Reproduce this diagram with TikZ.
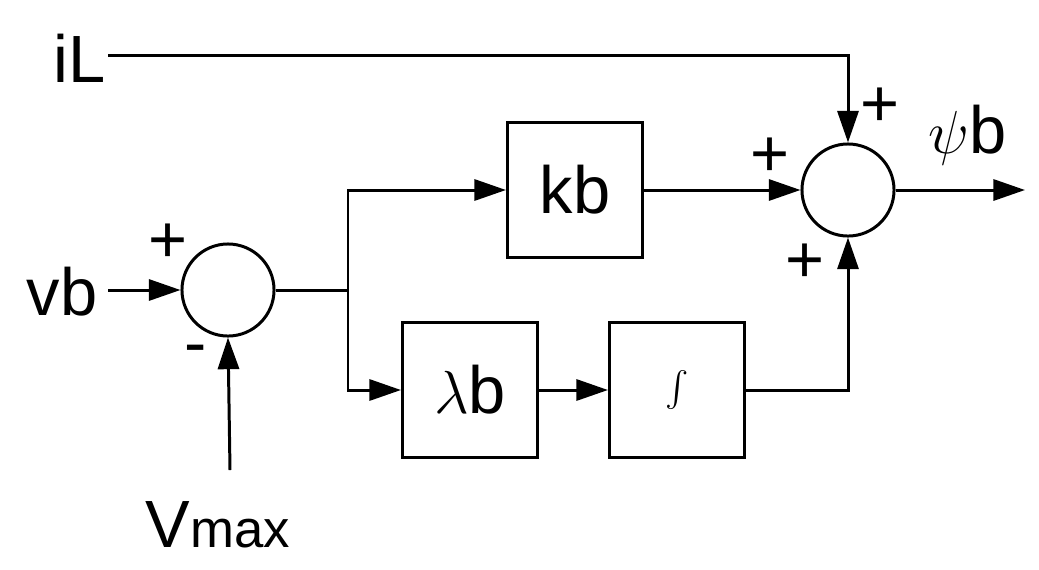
\documentclass[tikz,border=0pt]{standalone}
\usepackage{fontspec}
\setmainfont{Liberation Sans}
\usetikzlibrary{arrows.meta}
\begin{document}
\begin{tikzpicture}[x=0.01cm,y=-0.01cm,line width=0.85pt,
  block/.style={draw,minimum width=1.35cm,minimum height=1.35cm,inner sep=0pt},
  sum/.style={draw,circle,minimum size=0.92cm,inner sep=0pt},
  lbl/.style={font=\fontsize{19}{22}\selectfont},
  sgn/.style={font=\fontsize{19}{22}\selectfont,inner sep=0pt},
  >={Triangle[length=9pt,width=6pt]}]
\useasboundingbox (0,0) rectangle (1039,569);
\node[sum](s1) at (228,290){};
\node[sum](s2) at (848,190){};
\node[block,lbl](kb) at (575,190){kb};
\node[block,lbl](lb) at (470,390){$\lambda$b};
\node[block,lbl](int) at (677,390){$\int$};
\node[lbl](iL) at (80,58){iL};
\node[lbl](vb) at (62,292){vb};
\node[lbl](vm) at (218,525){V\fontsize{15}{18}\selectfont max};
\node[lbl](psi) at (968,135){$\psi$b};
\coordinate(br) at (348,290);
\coordinate(vin) at (230,470);
\coordinate(iLs) at (108,55);
\coordinate(out) at (1025,190);
\node[sgn] at (168,243){+};
\node[sgn] at (196,355){-};
\node[sgn] at (770,157){+};
\node[sgn] at (880,107){+};
\node[sgn] at (805,263){+};
% connectors
\draw[->] (108,290) -- (s1.west);
\draw[->] (vin) -- (s1.south);
\draw (s1.east) -- (br);
\draw[->] (br) |- (kb.west);
\draw[->] (br) |- (lb.west);
\draw[->] (lb) -- (int);
\draw[->] (int.east) -| (s2.south);
\draw[->] (kb) -- (s2);
\draw[->] (iLs) -| (s2.north);
\draw[->] (s2.east) -- (out);
\end{tikzpicture}
\end{document}
